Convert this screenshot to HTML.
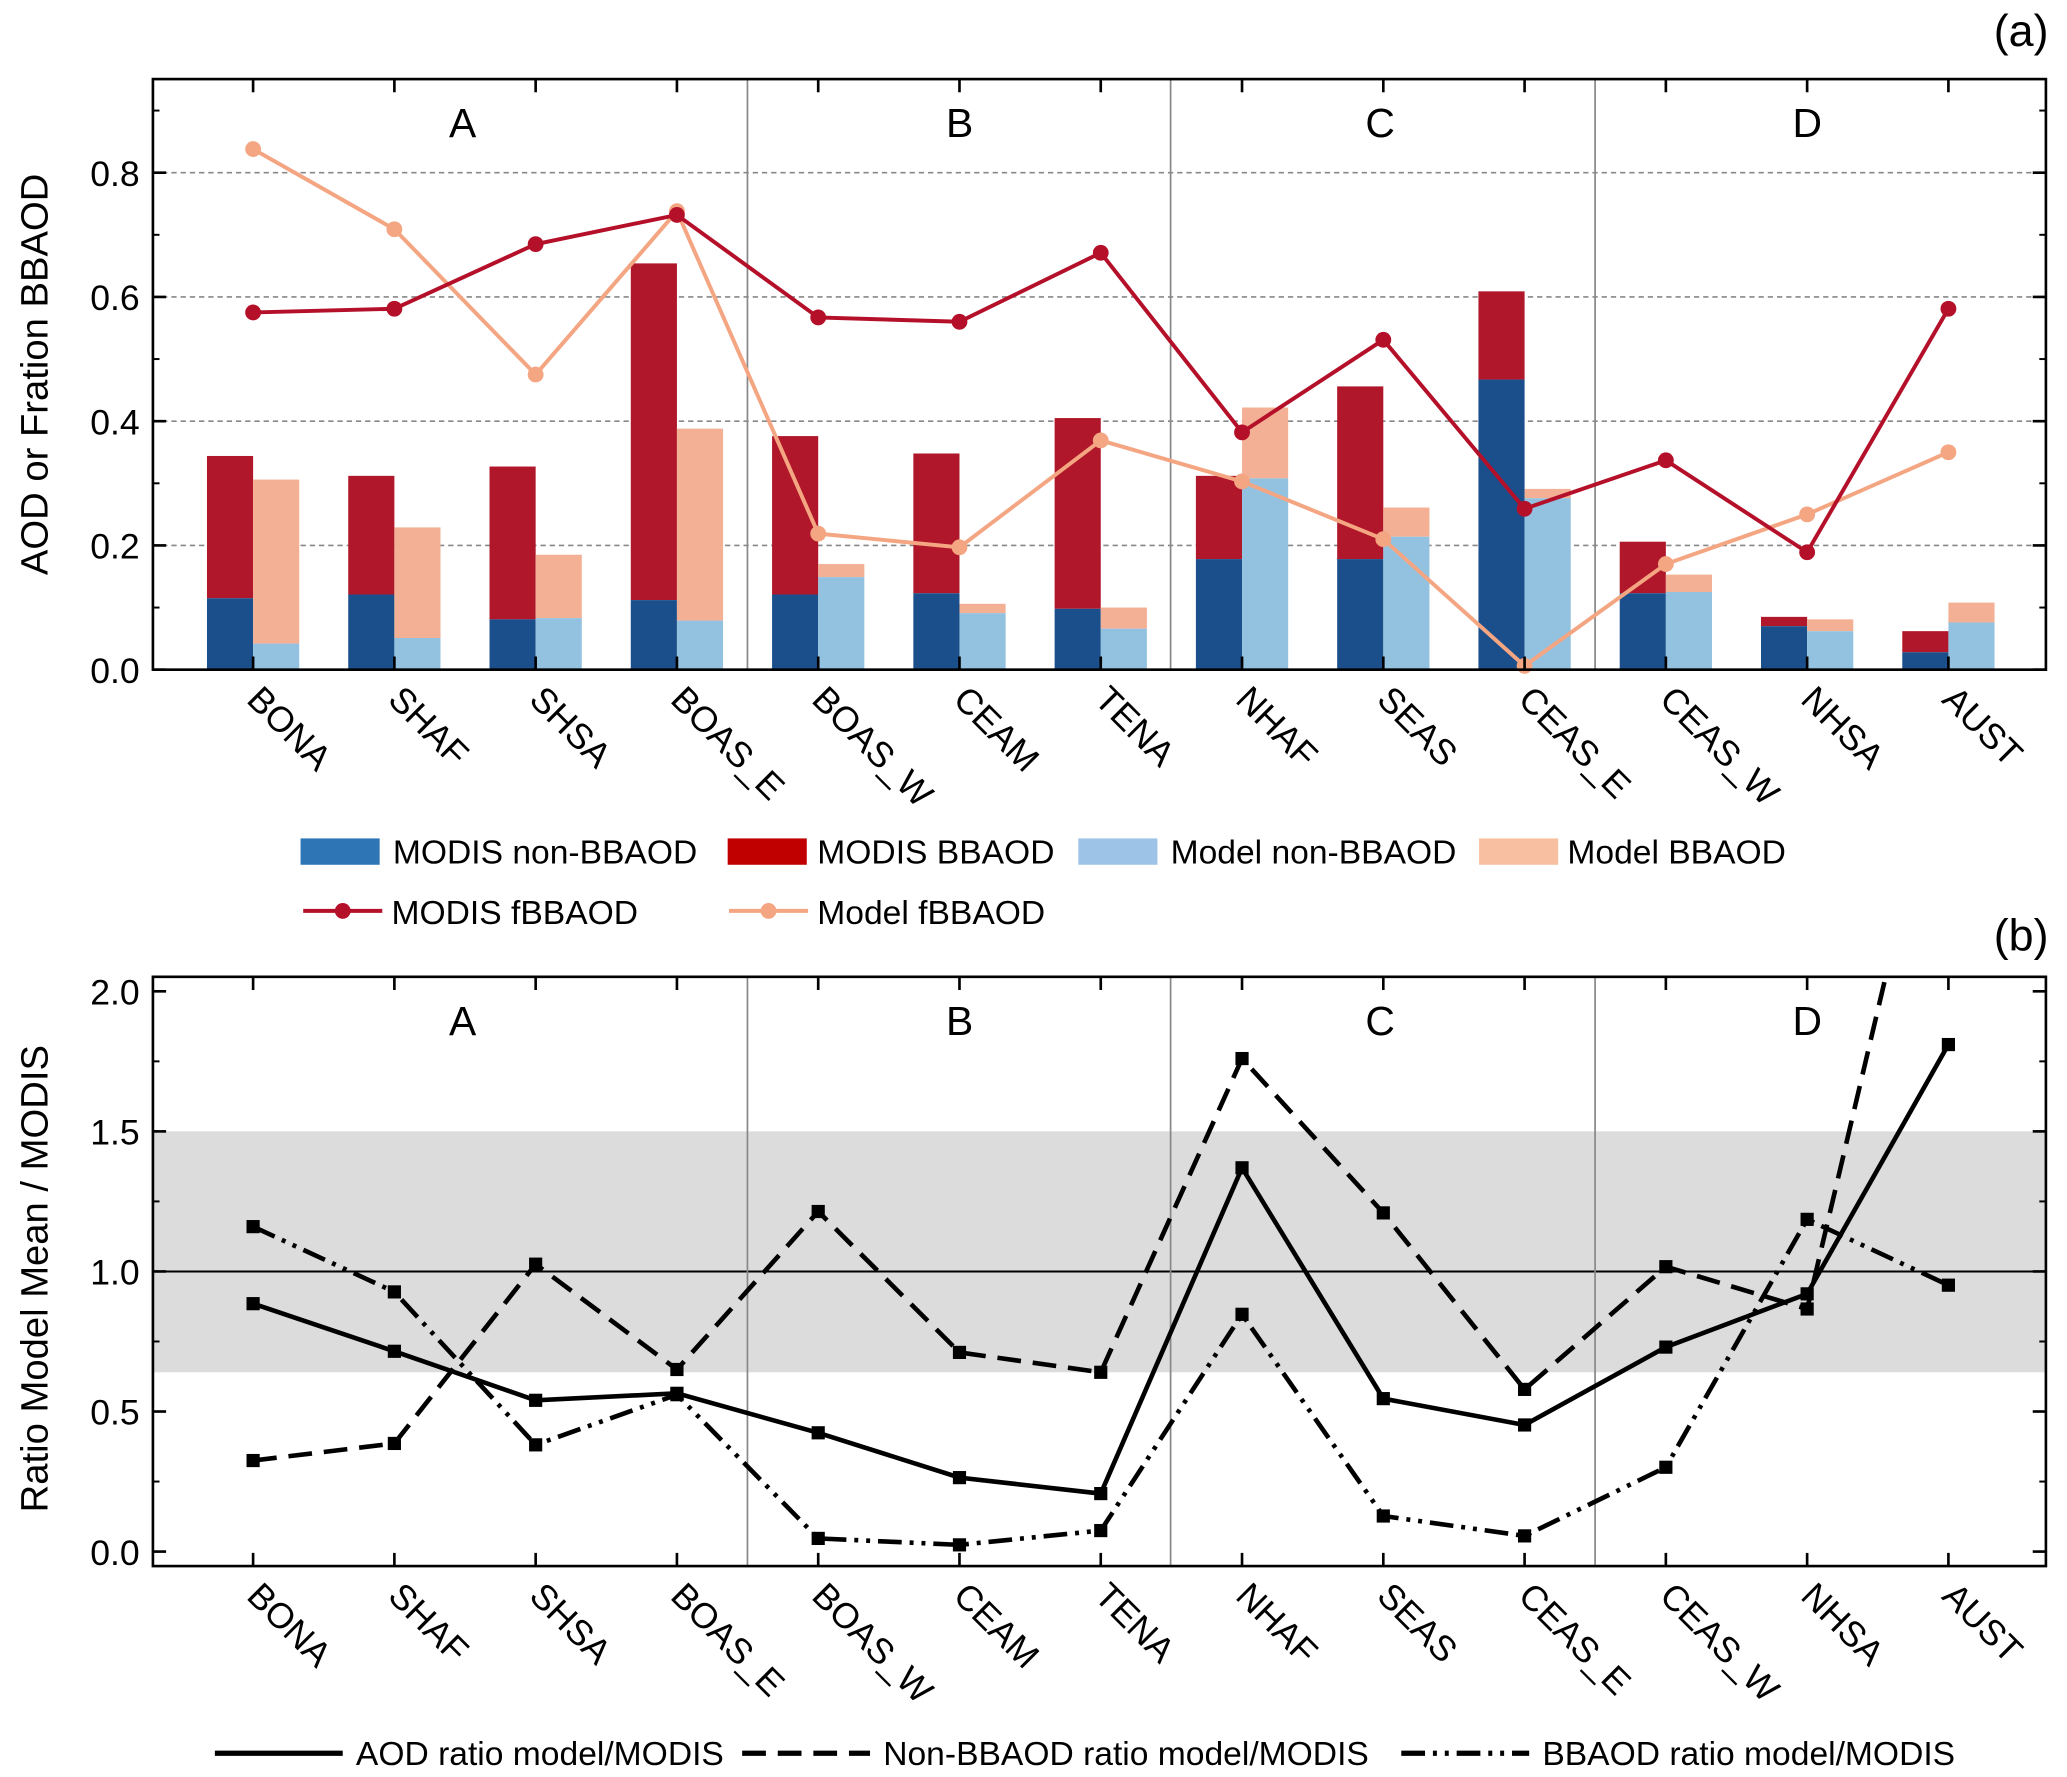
<!DOCTYPE html>
<html><head><meta charset="utf-8"><style>
html,body{margin:0;padding:0;background:#fff}
svg{display:block}
text{font-family:"Liberation Sans",Arial,sans-serif;fill:#000}
</style></head><body>
<svg id="chart" width="2067" height="1777" viewBox="0 0 1568 1348" preserveAspectRatio="none" xmlns="http://www.w3.org/2000/svg"><defs><clipPath id="clipB"><rect x="116" y="741" width="1436" height="447"/></clipPath></defs></svg>
<script>
const categories=["BONA","SHAF","SHSA","BOAS_E","BOAS_W","CEAM","TENA","NHAF","SEAS","CEAS_E","CEAS_W","NHSA","AUST"];
const modisNonBB=[0.115,0.121,0.081,0.112,0.121,0.123,0.098,0.178,0.178,0.467,0.123,0.070,0.028];
const modisTotal=[0.344,0.312,0.327,0.654,0.376,0.348,0.405,0.312,0.456,0.609,0.206,0.085,0.062];
const modelNonBB=[0.042,0.051,0.083,0.079,0.149,0.091,0.066,0.308,0.214,0.276,0.125,0.062,0.076];
const modelTotal=[0.306,0.229,0.185,0.388,0.170,0.106,0.100,0.422,0.261,0.291,0.153,0.081,0.108];
const modisFrac=[0.575,0.581,0.685,0.732,0.567,0.560,0.671,0.382,0.531,0.259,0.337,0.189,0.581];
const modelFrac=[0.838,0.709,0.475,0.738,0.219,0.197,0.369,0.303,0.210,0.006,0.170,0.250,0.350];
const ratioAOD=[0.885,0.715,0.54,0.565,0.424,0.264,0.207,1.37,0.546,0.452,0.73,0.92,1.81];
const ratioNonBB=[0.325,0.386,1.026,0.65,1.214,0.711,0.64,1.76,1.209,0.579,1.017,0.866,3.0];
const ratioBB=[1.16,0.927,0.381,0.56,0.047,0.024,0.075,0.847,0.127,0.056,0.301,1.186,0.951];
const ticksA=[0.0,0.2,0.4,0.6,0.8];
const ticksB=[0.0,0.5,1.0,1.5,2.0];
const groups=["A","B","C","D"];

const NS="http://www.w3.org/2000/svg";
const svg=document.getElementById('chart');
function el(tag,attrs,parent){const e=document.createElementNS(NS,tag);for(const k in attrs)e.setAttribute(k,attrs[k]);(parent||svg).appendChild(e);return e;}
function txt(s,attrs,parent){const e=el('text',attrs,parent);e.textContent=s;return e;}
const X0=116,X1=1552;
const xc=i=>192+i*107.17;
const yA=v=>508-v*471.25;
const yB=v=>1177-v*212.5;

const pa=el('g',{});

ticksA.slice(1).forEach(t=>{const g=el('line',{x1:X0,x2:X1,y1:yA(t),y2:yA(t),stroke:'#888','stroke-width':1.2,'stroke-dasharray':'4,3'},pa);});
[567,888,1210].forEach(x=>{const l=el('line',{x1:x,x2:x,y1:60,y2:508,stroke:'#888','stroke-width':1.3},pa);});
categories.forEach((c,i)=>{
  const x=xc(i);
  let r=el('rect',{x:x-35,y:yA(modisTotal[i]),width:35,height:yA(modisNonBB[i])-yA(modisTotal[i]),fill:'#b0172a'},pa);
  
  r=el('rect',{x:x-35,y:yA(modisNonBB[i]),width:35,height:yA(0)-yA(modisNonBB[i]),fill:'#1b4f8c'},pa);
  
  r=el('rect',{x:x,y:yA(modelTotal[i]),width:35,height:yA(modelNonBB[i])-yA(modelTotal[i]),fill:'#f4b094'},pa);
  
  r=el('rect',{x:x,y:yA(modelNonBB[i]),width:35,height:yA(0)-yA(modelNonBB[i]),fill:'#93c2e0'},pa);
  
});
function lineSeries(vals,yf,color,name,parent,w){
  const p=el('polyline',{points:vals.map((v,i)=>xc(i)+','+yf(v)).join(' '),fill:'none',stroke:color,'stroke-width':w||3},parent);
  return p;
}
lineSeries(modelFrac,yA,'#f4a582','line-model-fbbaod',pa);
modelFrac.forEach((v,i)=>{const c=el('circle',{cx:xc(i),cy:yA(v),r:6,fill:'#f4a582'},pa);});
lineSeries(modisFrac,yA,'#b5102a','line-modis-fbbaod',pa);
modisFrac.forEach((v,i)=>{const c=el('circle',{cx:xc(i),cy:yA(v),r:6,fill:'#b5102a'},pa);});

const pb=el('g',{});

let band=el('rect',{x:X0,y:yB(1.5),width:X1-X0,height:yB(0.64)-yB(1.5),fill:'#dcdcdc'},pb);

let one=el('line',{x1:X0,x2:X1,y1:yB(1),y2:yB(1),stroke:'#000','stroke-width':1.5},pb);

[567,888,1210].forEach(x=>{const l=el('line',{x1:x,x2:x,y1:741,y2:1188,stroke:'#888','stroke-width':1.3},pb);});
const gl=el('g',{'clip-path':'url(#clipB)'},pb);
lineSeries(ratioBB,yB,'#000','line-bbaod-ratio',gl,3.5).setAttribute('stroke-dasharray','18,6,3,6,3,6');
lineSeries(ratioNonBB,yB,'#000','line-non-bbaod-ratio',gl,3.5).setAttribute('stroke-dasharray','18,9');
lineSeries(ratioAOD,yB,'#000','line-aod-ratio',gl,3.5);
[ratioAOD,ratioNonBB,ratioBB].forEach(arr=>arr.forEach((v,i)=>{const s=el('rect',{x:xc(i)-5,y:yB(v)-5,width:10,height:10,fill:'#000'},gl);}));

function axes(top,bot,yf,ticks,name){
  const g=el('g',{});
  el('rect',{x:X0,y:top,width:X1-X0,height:bot-top,fill:'none',stroke:'#000','stroke-width':2},g);
  ticks.forEach(t=>{
    el('line',{x1:X0,x2:X0+10,y1:yf(t),y2:yf(t),stroke:'#000','stroke-width':2},g);
    el('line',{x1:X1,x2:X1-10,y1:yf(t),y2:yf(t),stroke:'#000','stroke-width':2},g);
    const l=txt(t.toFixed(1),{x:X0-10,y:yf(t)+10,'font-size':27,'text-anchor':'end'},g);
    
  });
  const step=ticks[1]-ticks[0];
  for(let t=ticks[0];t<ticks[ticks.length-1]+step;t+=step/2){const y=yf(t);if(y<top||y>bot)continue;
    el('line',{x1:X0,x2:X0+5,y1:y,y2:y,stroke:'#000','stroke-width':1.5},g);el('line',{x1:X1,x2:X1-5,y1:y,y2:y,stroke:'#000','stroke-width':1.5},g);}
  categories.forEach((c,i)=>{
    el('line',{x1:xc(i),x2:xc(i),y1:bot,y2:bot-10,stroke:'#000','stroke-width':2},g);
    el('line',{x1:xc(i),x2:xc(i),y1:top,y2:top+10,stroke:'#000','stroke-width':2},g);
    const l=txt(c,{x:0,y:0,'font-size':27,transform:`translate(${xc(i)-6},${bot+24}) rotate(45)`},g);
    
  });
  groups.forEach((s,k)=>{const l=txt(s,{x:[351,728,1047,1371][k],y:top+44,'font-size':31,'text-anchor':'middle'},g);});
}
axes(60,508,yA,ticksA,'axes-a');
axes(741,1188,yB,ticksB,'axes-b');
let t;
t=txt('AOD or Fration BBAOD',{x:0,y:0,'font-size':29,'text-anchor':'middle',transform:'translate(36,284) rotate(-90)'});
t=txt('Ratio Model Mean / MODIS',{x:0,y:0,'font-size':29,'text-anchor':'middle',transform:'translate(36,970) rotate(-90)'});
t=txt('(a)',{x:1554,y:35,'font-size':34,'text-anchor':'end'});
t=txt('(b)',{x:1554,y:721,'font-size':34,'text-anchor':'end'});

const lg=el('g',{});
[[228,'#2e75b6','MODIS non-BBAOD',298],[552,'#c00000','MODIS BBAOD',620],[818,'#9dc3e6','Model non-BBAOD',888],[1122,'#f8c0a0','Model BBAOD',1189]].forEach(a=>{
  el('rect',{x:a[0],y:636,width:60,height:20,fill:a[1]},lg);
  const l=txt(a[2],{x:a[3],y:655,'font-size':25.5},lg);
});
[[230,'#b5102a','MODIS fBBAOD',297],[553,'#f4a582','Model fBBAOD',620]].forEach(a=>{
  el('line',{x1:a[0],x2:a[0]+60,y1:691,y2:691,stroke:a[1],'stroke-width':3},lg);
  el('circle',{cx:a[0]+30,cy:691,r:6,fill:a[1]},lg);
  const l=txt(a[2],{x:a[3],y:701,'font-size':25.5},lg);
});
const lb=el('g',{});
[[163,'none','AOD ratio model/MODIS',270],[563,'18,9','Non-BBAOD ratio model/MODIS',670],[1063,'18,6,3,6,3,6','BBAOD ratio model/MODIS',1170]].forEach(a=>{
  const ln=el('line',{x1:a[0],x2:a[0]+97,y1:1330,y2:1330,stroke:'#000','stroke-width':4},lb);
  if(a[1]!=='none')ln.setAttribute('stroke-dasharray',a[1]);
  const l=txt(a[2],{x:a[3],y:1339,'font-size':25.5},lb);
});
</script>
</body></html>
